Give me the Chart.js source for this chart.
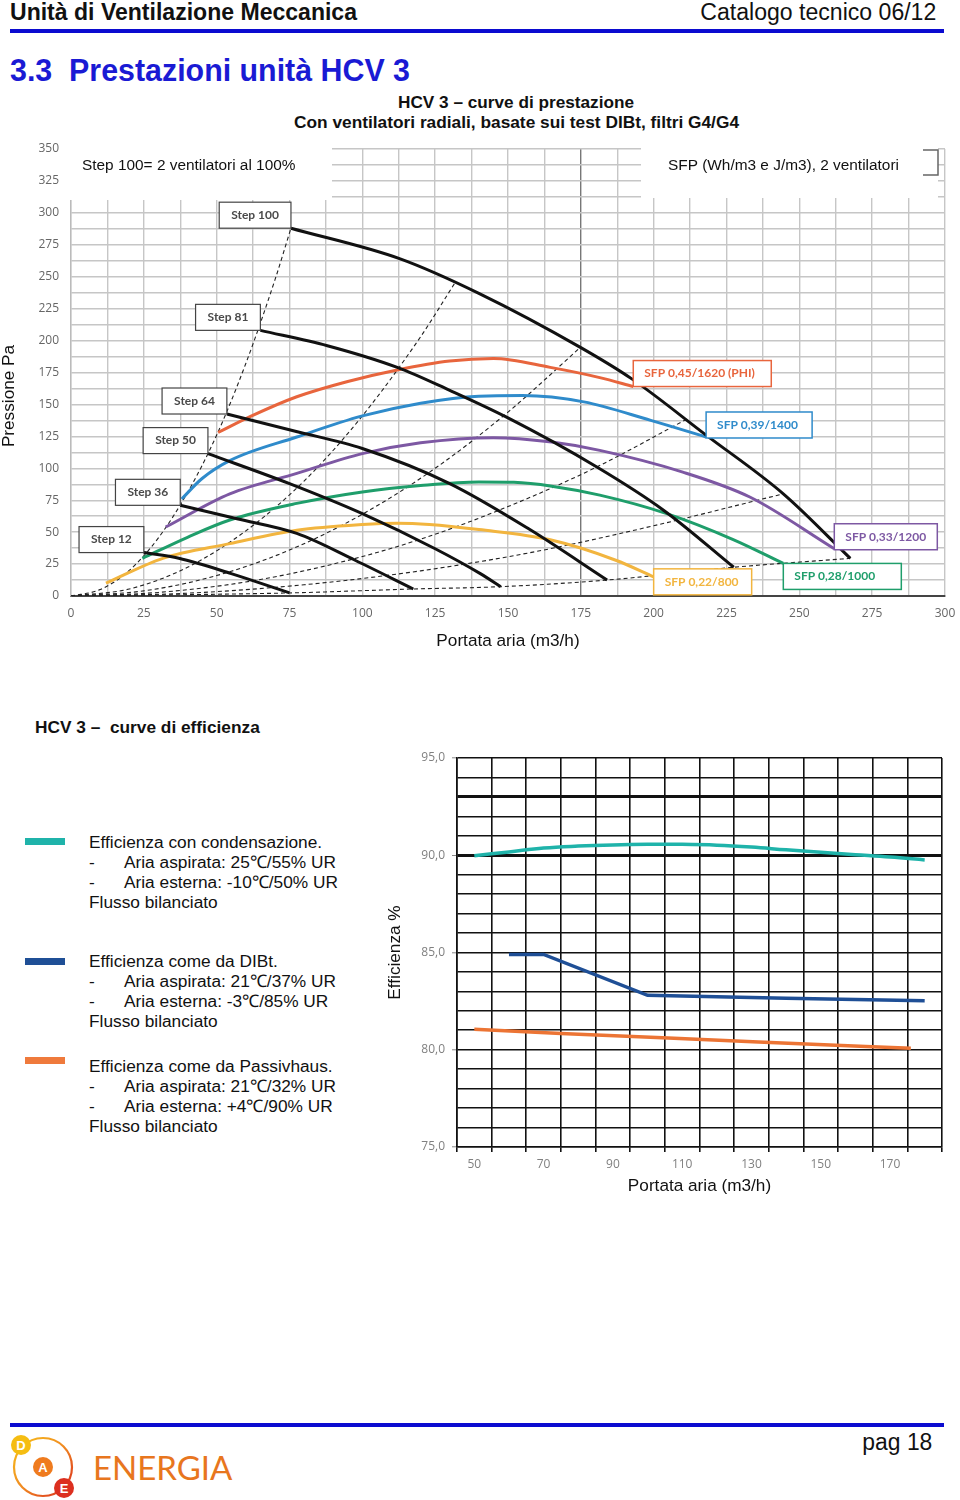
<!DOCTYPE html>
<html>
<head>
<meta charset="utf-8">
<script src="https://cdn.jsdelivr.net/npm/chart.js@4.4.1/dist/chart.umd.min.js"></script>
<style>
body { margin: 0; background: #fff; }
#page { position: relative; width: 960px; height: 1500px; overflow: hidden; font-family: "Liberation Sans", Arial, sans-serif; color: #111; }
.t { position: absolute; white-space: nowrap; }
.fit { transform-origin: left center; }
.fitr { transform-origin: right center; }
.rule { position: absolute; left: 10px; width: 934px; height: 4px; background: #0b0bd0; }
canvas { position: absolute; }
.bar { position: absolute; left: 25px; width: 40px; height: 7px; }
.leg { position: absolute; left: 89px; font-size: 17.3px; line-height: 20px; white-space: nowrap; }
.leg .d { display: inline-block; width: 35px; }
</style>
</head>
<body>
<div id="page">
  <div class="t fit" data-w="347" style="left:10px;top:0;font-size:23px;line-height:24px;font-weight:bold;">Unità di Ventilazione Meccanica</div>
  <div class="t fitr" data-w="236" style="right:24px;top:0;font-size:23px;line-height:24px;">Catalogo tecnico 06/12</div>
  <div class="rule" style="top:29px;"></div>

  <div class="t fit" data-w="400" style="left:10px;top:52px;font-size:32px;line-height:36px;font-weight:bold;color:#1a1ad4;">3.3&nbsp; Prestazioni unità HCV 3</div>
  <div class="t fit" data-w="236" style="left:398px;top:92px;font-size:16.5px;line-height:20px;font-weight:bold;">HCV 3 – curve di prestazione</div>
  <div class="t fit" data-w="445" style="left:294px;top:112px;font-size:16.5px;line-height:20px;font-weight:bold;">Con ventilatori radiali, basate sui test DIBt, filtri G4/G4</div>

  <canvas id="perf" width="960" height="520" style="left:0;top:140px;"></canvas>
  <div class="t" style="left:-52px;top:386px;width:120px;height:20px;line-height:20px;text-align:center;font-size:17.2px;transform:rotate(-90deg);">Pressione Pa</div>

  <div class="t" style="left:35px;top:717px;font-size:17.3px;line-height:20px;font-weight:bold;">HCV 3 –&nbsp; curve di efficienza</div>

  <div class="bar" style="top:838px;background:#1fb3aa;"></div>
  <div class="leg" style="top:832px;">Efficienza con condensazione.<br><span class="d">-</span>Aria aspirata: 25℃/55% UR<br><span class="d">-</span>Aria esterna: -10℃/50% UR<br>Flusso bilanciato</div>
  <div class="bar" style="top:958px;background:#1f4f96;"></div>
  <div class="leg" style="top:951px;">Efficienza come da DIBt.<br><span class="d">-</span>Aria aspirata: 21℃/37% UR<br><span class="d">-</span>Aria esterna: -3℃/85% UR<br>Flusso bilanciato</div>
  <div class="bar" style="top:1057px;background:#ef7a3c;"></div>
  <div class="leg" style="top:1056px;">Efficienza come da Passivhaus.<br><span class="d">-</span>Aria aspirata: 21℃/32% UR<br><span class="d">-</span>Aria esterna: +4℃/90% UR<br>Flusso bilanciato</div>

  <canvas id="eff" width="580" height="465" style="left:380px;top:740px;"></canvas>

  <div class="rule" style="top:1423px;"></div>
  <div class="t fitr" data-w="70" style="right:28px;top:1430px;font-size:23px;line-height:24px;">pag 18</div>
  <svg style="position:absolute;left:0;top:1428px;" width="90" height="72">
    <defs>
      <linearGradient id="ring" x1="0" y1="0" x2="1" y2="1">
        <stop offset="0" stop-color="#f7c21b"/><stop offset="0.5" stop-color="#f08a22"/><stop offset="1" stop-color="#d9261c"/>
      </linearGradient>
    </defs>
    <circle cx="43" cy="39" r="29" fill="none" stroke="url(#ring)" stroke-width="2.2"/>
    <circle cx="21" cy="17" r="10" fill="#f5bd12"/>
    <circle cx="43" cy="39" r="10" fill="#ef7b1e"/>
    <circle cx="64" cy="60" r="10" fill="#dc2f1f"/>
    <text x="21" y="22" font-family="Liberation Sans" font-weight="bold" font-size="13" fill="#fff" text-anchor="middle">D</text>
    <text x="43" y="44" font-family="Liberation Sans" font-weight="bold" font-size="13" fill="#fff" text-anchor="middle">A</text>
    <text x="64" y="65" font-family="Liberation Sans" font-weight="bold" font-size="13" fill="#fff" text-anchor="middle">E</text>
  </svg>
  <div class="t" style="left:93px;top:1448px;font-family:Lato,sans-serif;font-size:33px;line-height:38px;color:#e8761e;">ENERGIA</div>
</div>

<script>
// ---------- performance chart: flow (m3/h) vs pressure (Pa) ----------
const flowTicks = [0, 25, 50, 75, 100, 125, 150, 175, 200, 225, 250, 275, 300];
const pressureTicks = [0, 25, 50, 75, 100, 125, 150, 175, 200, 225, 250, 275, 300, 325, 350];

// fan curves, one per step  [flow, pressure]
const stepLabels = ['Step 12', 'Step 36', 'Step 50', 'Step 64', 'Step 81', 'Step 100'];
const step12 = [[25, 34], [37, 29.5], [55, 17.5], [75, 2.4]];
const step36 = [[37.5, 71], [57, 60.5], [77.5, 49], [97.5, 28], [117.5, 5.5]];
const step50 = [[47, 111.5], [75, 88], [100, 64.5], [125, 37], [140.5, 17.5], [147.5, 7.3]];
const step64 = [[53.5, 142.5], [77, 129], [100, 115.5], [130, 88], [157.5, 52], [184, 12.5]];
const step81 = [[65, 208], [88, 196], [112, 179], [130, 161], [149.5, 140], [180.5, 101], [203.5, 67], [227.5, 22.5]];
const step100 = [[75.5, 288], [113, 264], [140, 237], [175, 194.5], [192.5, 170], [218, 126], [244.5, 80], [267.5, 29.5]];

// iso-SFP curves
const sfpLabels = ['SFP 0,22/800', 'SFP 0,28/1000', 'SFP 0,33/1200', 'SFP 0,39/1400', 'SFP 0,45/1620 (PHI)'];
const sfp022 = [[12, 10], [31.5, 29.5], [54.5, 41], [77.5, 51.5], [100, 56], [112, 57], [123, 56], [140, 52], [164.5, 44], [187, 28], [200, 15]];
const sfp028 = [[24.5, 29.5], [40, 46], [54.5, 59.5], [77.5, 72.5], [100, 81.5], [120, 86.5], [140, 89.3], [152, 89], [165, 86], [181.5, 79], [204.5, 64.5], [227.5, 44], [244.5, 25.5]];
const sfp033 = [[32.5, 54], [54.5, 80], [77.5, 96], [100, 111.5], [120, 120], [145, 124], [165, 120.5], [181.5, 114], [210, 97], [233, 77.5], [262, 37]];
const sfp039 = [[38, 76], [45, 92], [54.5, 106], [77.5, 124.5], [100, 141], [120, 151], [140, 156.5], [155, 157], [176, 152], [199, 137.5], [218, 124.5]];
const sfp045 = [[50.5, 128], [62, 141], [77.5, 156], [95, 168], [112, 177], [130, 184], [145, 186], [164.5, 179], [181.5, 171], [193, 164]];

// dashed system curves
const sys1 = [[0, 0], [10, 5], [20, 20], [30, 45.5], [40, 81], [50, 126], [60, 182], [70, 247.5], [75.5, 288]];
const sys2 = [[0, 0], [20, 5.5], [40, 22.5], [60, 51], [80, 90], [100, 141], [120, 203], [132, 246]];
const sys3 = [[0, 0], [25, 4], [50, 16], [75, 36], [100, 64], [125, 100], [150, 144], [175, 195]];
const sys4 = [[0, 0], [30, 2.8], [60, 11], [90, 25], [120, 44.5], [150, 70], [180, 100.5], [211, 138]];
const sys5 = [[0, 0], [40, 2.2], [80, 8.8], [120, 19.7], [160, 35], [200, 55], [244.5, 80]];
const sys6 = [[0, 0], [75, 2.4], [117.5, 5.5], [147.5, 7.3], [184, 12.5], [227.5, 22.5], [267.5, 29.5]];

// ---------- efficiency chart ----------
const effTicksX = [50, 70, 90, 110, 130, 150, 170];
const effTicksY = [75, 80, 85, 90, 95];
const effBoldLines = [93, 90];
const condFlow = [50, 60, 70, 80, 90, 100, 110, 120, 130, 140, 150, 160, 170, 180];
const condEff = [89.98, 90.17, 90.37, 90.47, 90.53, 90.56, 90.56, 90.52, 90.42, 90.28, 90.15, 90.03, 89.91, 89.76];
const dibtFlow = [60, 70, 100, 120, 140, 160, 180];
const dibtEff = [84.9, 84.9, 82.8, 82.72, 82.65, 82.58, 82.52];
const phFlow = [50, 75, 106, 132, 163, 176];
const phEff = [81.05, 80.83, 80.6, 80.4, 80.17, 80.08];


// squeeze header texts to the narrow widths of the printed page
document.querySelectorAll('[data-w]').forEach(el => {
    const w = el.getBoundingClientRect().width;
    el.style.transform = 'scaleX(' + (Number(el.dataset.w) / w) + ')';
});

const sfpColors = ['#f2b53f', '#1f9e6b', '#7d58a3', '#2f8bcb', '#e8653d'];
const sfpBoxW = [98, 118, 103, 106, 138];
const sfpBoxDy = [-8, 0, -25, -25, -26];

function toXY(a) {
    return a.map(p => ({ x: p[0], y: p[1] }));
}

// fixed axis box size, and no extra room for edge tick labels
function fixBox(w, h) {
    return s => {
        if (w) s.width = w;
        if (h) s.height = h;
        s.paddingLeft = s.paddingRight = s.paddingTop = s.paddingBottom = 0;
    };
}

const steps = [step12, step36, step50, step64, step81, step100];
const sfps = [sfp022, sfp028, sfp033, sfp039, sfp045];
const systems = [sys1, sys2, sys3, sys4, sys5, sys6];

let perfSets = [];
systems.forEach(s => perfSets.push({
    data: toXY(s), borderColor: '#222', borderWidth: 1.1, borderDash: [4, 3], order: 3
}));
sfps.forEach((s, i) => perfSets.push({
    data: toXY(s), borderColor: sfpColors[i], borderWidth: 3, order: 2
}));
steps.forEach(s => perfSets.push({
    data: toXY(s), borderColor: '#111', borderWidth: 3, order: 1
}));

const labelBoxes = {
    id: 'labelBoxes',
    beforeDatasetsDraw(chart) {
        const { ctx, chartArea: ca } = chart;
        ctx.save();
        ctx.fillStyle = '#fff';
        ctx.fillRect(ca.left - 4, ca.top - 1, 265, 52);
        ctx.fillRect(ca.left + 570, ca.top - 1, 297, 50);
        ctx.strokeStyle = '#666';
        ctx.lineWidth = 1.5;
        ctx.beginPath();
        ctx.moveTo(ca.left + 852, ca.top + 1);
        ctx.lineTo(ca.left + 867, ca.top + 1);
        ctx.lineTo(ca.left + 867, ca.top + 26);
        ctx.lineTo(ca.left + 852, ca.top + 26);
        ctx.stroke();
        ctx.fillStyle = '#111';
        ctx.font = '15.4px "Liberation Sans", Arial';
        ctx.textBaseline = 'middle';
        ctx.fillText('Step 100= 2 ventilatori al 100%', ca.left + 11, ca.top + 17);
        ctx.fillText('SFP (Wh/m3 e J/m3), 2 ventilatori', ca.left + 597, ca.top + 17);
        ctx.restore();
    },
    afterDatasetsDraw(chart) {
        const { ctx } = chart;
        const xs = chart.scales.x, ys = chart.scales.y;
        ctx.save();
        ctx.font = 'bold 12px Lato, sans-serif';
        ctx.textBaseline = 'middle';
        steps.forEach((s, i) => {
            const px = xs.getPixelForValue(s[0][0]);
            const py = ys.getPixelForValue(s[0][1]);
            const w = ctx.measureText(stepLabels[i]).width + 24;
            const h = 26;
            ctx.fillStyle = '#fff';
            ctx.fillRect(px - w, py - h, w, h);
            ctx.strokeStyle = '#444';
            ctx.lineWidth = 1.2;
            ctx.strokeRect(px - w, py - h, w, h);
            ctx.fillStyle = '#4a4a4a';
            ctx.textAlign = 'center';
            ctx.fillText(stepLabels[i], px - w / 2, py - h / 2);
        });
        sfps.forEach((s, i) => {
            const last = s[s.length - 1];
            const px = xs.getPixelForValue(last[0]);
            const py = ys.getPixelForValue(last[1]) + sfpBoxDy[i];
            const w = sfpBoxW[i], h = 26;
            ctx.fillStyle = '#fff';
            ctx.fillRect(px, py, w, h);
            ctx.strokeStyle = sfpColors[i];
            ctx.lineWidth = 1.5;
            ctx.strokeRect(px, py, w, h);
            ctx.fillStyle = sfpColors[i];
            ctx.textAlign = 'left';
            ctx.fillText(sfpLabels[i], px + 11, py + h / 2);
        });
        ctx.restore();
    }
};

const tickFont = { family: '"Open Sans", sans-serif', size: 12 };
const titleFont = { family: '"Liberation Sans", Arial', size: 17.2 };

new Chart(document.getElementById('perf').getContext('2d'), {
    type: 'scatter',
    data: { datasets: perfSets },
    options: {
        responsive: false,
        animation: false,
        devicePixelRatio: 1,
        showLine: true,
        elements: {
            point: { radius: 0 },
            line: { cubicInterpolationMode: 'monotone' }
        },
        layout: { autoPadding: false, padding: { left: 0, top: 9, right: 15, bottom: 0 } },
        scales: {
            x: {
                type: 'linear', min: 0, max: 300,
                afterFit: fixBox(0, 64),
                ticks: {
                    stepSize: 12.5, autoSkip: false, maxRotation: 0, padding: 10,
                    color: '#666', font: tickFont,
                    callback: v => flowTicks.includes(v) ? String(v) : ''
                },
                grid: {
                    drawTicks: false, lineWidth: 1.4,
                    color: c => (c.tick && c.tick.value === 175) ? '#777' : '#c6c6c6'
                },
                border: { color: '#444', width: 2 },
                title: {
                    display: true, text: 'Portata aria (m3/h)', color: '#111',
                    font: titleFont, padding: { top: 0, bottom: 8 }
                }
            },
            y: {
                type: 'linear', min: 0, max: 350,
                afterFit: fixBox(71, 0),
                ticks: {
                    stepSize: 12.5, autoSkip: false, padding: 12,
                    color: '#666', font: tickFont,
                    callback: v => pressureTicks.includes(v) ? String(v) : ''
                },
                grid: { drawTicks: false, lineWidth: 1.4, color: '#c6c6c6' },
                border: { color: '#bbb', width: 1.4 }
            }
        },
        plugins: { legend: { display: false }, tooltip: { enabled: false } }
    },
    plugins: [labelBoxes]
});

new Chart(document.getElementById('eff').getContext('2d'), {
    type: 'scatter',
    data: {
        datasets: [
            { data: condFlow.map((x, i) => ({ x: x, y: condEff[i] })), borderColor: '#1fb3aa', borderWidth: 3.5, tension: 0.4 },
            { data: dibtFlow.map((x, i) => ({ x: x, y: dibtEff[i] })), borderColor: '#1f4f96', borderWidth: 3.5, tension: 0 },
            { data: phFlow.map((x, i) => ({ x: x, y: phEff[i] })), borderColor: '#ec7434', borderWidth: 3.5, tension: 0 }
        ]
    },
    options: {
        responsive: false,
        animation: false,
        devicePixelRatio: 1,
        showLine: true,
        elements: { point: { radius: 0 } },
        layout: { autoPadding: false, padding: { left: 0, top: 18, right: 18, bottom: 0 } },
        scales: {
            x: {
                type: 'linear', min: 45, max: 185,
                afterFit: fixBox(0, 58),
                ticks: {
                    stepSize: 5, autoSkip: false, maxRotation: 0, padding: 5,
                    color: '#808080', font: tickFont,
                    callback: v => effTicksX.includes(v) ? String(v) : ((v - 45) % 10 === 0 ? '' : null)
                },
                grid: {
                    tickLength: 5, lineWidth: 1.6,
                    color: c => (c.tick && (c.tick.value - 45) % 10 === 0) ? '#111' : 'rgba(0,0,0,0)'
                },
                border: { color: '#111', width: 1.6 },
                title: {
                    display: true, text: 'Portata aria (m3/h)', color: '#111',
                    font: titleFont, padding: { top: 0, bottom: 8 }
                }
            },
            y: {
                type: 'linear', min: 75, max: 95,
                afterFit: fixBox(77, 0),
                ticks: {
                    stepSize: 1, autoSkip: false, padding: 7,
                    color: '#808080', font: tickFont,
                    callback: v => effTicksY.includes(v) ? v.toFixed(1).replace('.', ',') : ''
                },
                grid: {
                    tickLength: 5, color: '#111',
                    lineWidth: c => (c.tick && effBoldLines.includes(c.tick.value)) ? 3 : 1.6,
                    tickColor: c => (c.tick && effTicksY.includes(c.tick.value)) ? '#888' : 'rgba(0,0,0,0)',
                    tickWidth: 1
                },
                border: { color: '#111', width: 1.6 },
                title: {
                    display: true, text: 'Efficienza %', color: '#111',
                    font: titleFont, padding: { top: 5, bottom: 0 }
                }
            }
        },
        plugins: { legend: { display: false }, tooltip: { enabled: false } }
    }
});
</script>
</body>
</html>
